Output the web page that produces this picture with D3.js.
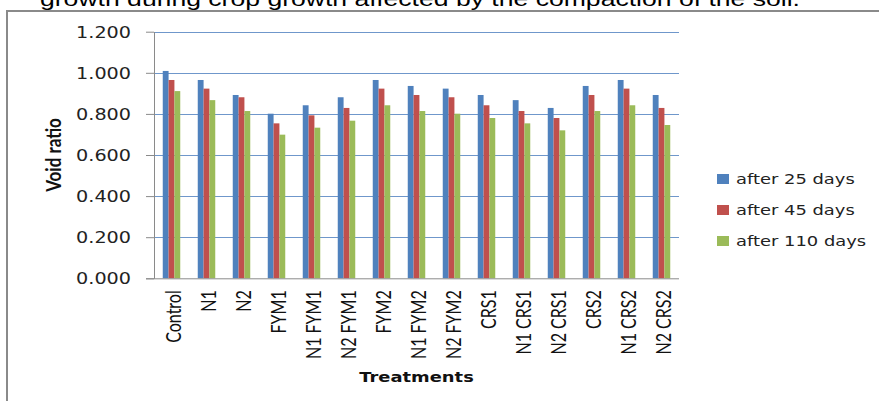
<!DOCTYPE html>
<html>
<head>
<meta charset="utf-8">
<script src="https://cdn.jsdelivr.net/npm/d3@7"></script>
<style>
  body { margin: 0; background: #fff; }
  svg { display: block; }
</style>
</head>
<body>
<svg width="879" height="401"></svg>
<script>
// treatments on the x axis
var treatments = ["Control", "N1", "N2", "FYM1", "N1 FYM1", "N2 FYM1", "FYM2", "N1 FYM2",
  "N2 FYM2", "CRS1", "N1 CRS1", "N2 CRS1", "CRS2", "N1 CRS2", "N2 CRS2"];

var seriesNames = ["after 25 days", "after 45 days", "after 110 days"];
var seriesColors = ["#4f81bd", "#c0504d", "#9bbb59"];

// void ratio
var after25 = [1.009, 0.965, 0.892, 0.801, 0.842, 0.881, 0.965, 0.936, 0.923, 0.892, 0.867, 0.829, 0.936, 0.965, 0.892];
var after45 = [0.965, 0.923, 0.881, 0.754, 0.793, 0.829, 0.923, 0.892, 0.881, 0.842, 0.814, 0.780, 0.892, 0.923, 0.829];
var after110 = [0.911, 0.867, 0.814, 0.699, 0.733, 0.767, 0.842, 0.814, 0.801, 0.780, 0.754, 0.720, 0.814, 0.842, 0.746];

var yTicks = [0, 0.2, 0.4, 0.6, 0.8, 1.0, 1.2];

var allSeries = [after25, after45, after110];
var stretch = 1.28; // the source picture is widened horizontally

var svg = d3.select("svg");

// page title, cut by the top edge
svg.append("text")
  .attr("x", 40)
  .attr("y", 6)
  .attr("textLength", 760)
  .attr("lengthAdjust", "spacingAndGlyphs")
  .style("font-family", "'Liberation Sans', Arial, sans-serif")
  .style("font-size", "20px")
  .text("growth during crop growth affected by the compaction of the soil.");

// chart frame
svg.append("rect")
  .attr("x", 7).attr("y", 11)
  .attr("width", 900).attr("height", 420)
  .attr("fill", "none")
  .attr("stroke", "#8a8a8a")
  .attr("stroke-width", 2);

var plotLeft = 154, plotRight = 679, plotTop = 31.7, plotBottom = 278.3;

var x0 = d3.scaleBand().domain(treatments).range([plotLeft, plotRight]).padding(0);
var x1 = d3.scaleBand().domain(d3.range(3))
  .range([x0.bandwidth() * 0.25, x0.bandwidth() * 0.75]);
var y = d3.scaleLinear().domain([0, 1.2]).range([plotBottom, plotTop]);

// gridlines
svg.append("g")
  .selectAll("line")
  .data(yTicks.filter(function (d) { return d > 0; }))
  .enter().append("line")
  .attr("x1", plotLeft).attr("x2", plotRight)
  .attr("y1", function (d) { return Math.round(y(d)) + 0.5; })
  .attr("y2", function (d) { return Math.round(y(d)) + 0.5; })
  .attr("stroke", "#6f97cb")
  .attr("stroke-width", 1);

// bars
var groups = svg.append("g")
  .selectAll("g")
  .data(treatments)
  .enter().append("g")
  .attr("transform", function (d) { return "translate(" + x0(d) + ",0)"; });

groups.selectAll("rect")
  .data(function (d, i) { return allSeries.map(function (s, k) { return { k: k, v: s[i] }; }); })
  .enter().append("rect")
  .attr("x", function (d) { return x1(d.k); })
  .attr("width", x1.bandwidth())
  .attr("y", function (d) { return y(d.v); })
  .attr("height", function (d) { return y(0) - y(d.v); })
  .attr("fill", function (d) { return seriesColors[d.k]; });

// y axis
var yAxis = svg.append("g")
  .attr("transform", "translate(" + plotLeft + ",0)")
  .call(d3.axisLeft(y).tickValues(yTicks).tickFormat(d3.format(".3f")).tickSize(8).tickSizeOuter(0));
yAxis.select(".domain").attr("stroke", "#8a8a8a");
yAxis.selectAll(".tick line").attr("stroke", "#8a8a8a");
yAxis.selectAll(".tick text")
  .attr("x", -23 / stretch)
  .attr("dy", "0.36em")
  .attr("transform", "scale(" + stretch + ",1)")
  .style("font-family", "'DejaVu Sans', Verdana, sans-serif")
  .style("font-size", "15px")
  .attr("fill", "#222");

// x axis
var xAxis = svg.append("g")
  .attr("transform", "translate(0," + plotBottom + ")")
  .call(d3.axisBottom(x0).tickSize(0).tickSizeOuter(0));
xAxis.select(".domain").attr("stroke", "#8a8a8a").attr("d", "M" + (plotLeft - 8) + ",0.5H" + plotRight);
xAxis.selectAll(".tick text")
  .attr("x", 0)
  .attr("y", 0)
  .attr("dy", "0.36em")
  .attr("text-anchor", "end")
  .attr("transform", "translate(2,12) rotate(-90) scale(1," + stretch + ")")
  .style("font-family", "Lato, sans-serif")
  .style("font-size", "16px")
  .attr("fill", "#111");

// axis titles
svg.append("text")
  .attr("text-anchor", "middle")
  .attr("transform", "translate(" + ((plotLeft + plotRight) / 2) + ",382) scale(" + stretch + ",1)")
  .style("font-family", "'DejaVu Sans', Verdana, sans-serif")
  .style("font-weight", "bold")
  .style("font-size", "14px")
  .attr("fill", "#111")
  .text("Treatments");

svg.append("text")
  .attr("text-anchor", "middle")
  .attr("transform", "translate(61," + ((plotTop + plotBottom) / 2) + ") rotate(-90) scale(1," + stretch + ")")
  .style("font-family", "Lato, sans-serif")
  .style("font-weight", "bold")
  .style("font-size", "17px")
  .attr("fill", "#111")
  .text("Void ratio");

// legend
var legend = svg.append("g")
  .selectAll("g")
  .data(seriesNames)
  .enter().append("g")
  .attr("transform", function (d, i) { return "translate(717," + (179 + i * 31) + ")"; });

legend.append("rect")
  .attr("x", 0).attr("y", -5)
  .attr("width", 12).attr("height", 10)
  .attr("fill", function (d, i) { return seriesColors[i]; });

legend.append("text")
  .attr("dy", "0.36em")
  .attr("transform", "translate(19,0) scale(" + stretch + ",1)")
  .style("font-family", "'DejaVu Sans', Verdana, sans-serif")
  .style("font-size", "14px")
  .attr("fill", "#222")
  .text(function (d) { return d; });
</script>
</body>
</html>
